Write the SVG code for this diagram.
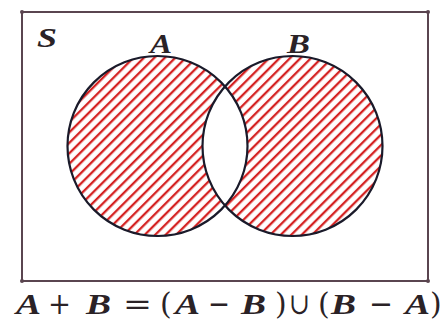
<svg xmlns="http://www.w3.org/2000/svg" width="443" height="325" viewBox="0 0 443 325">
<style>
.v{font-family:"Liberation Serif",serif;font-style:italic;font-weight:bold;fill:#2a2226;}
.op{font-family:"DejaVu Serif","Liberation Serif",serif;font-style:normal;font-weight:normal;fill:#2a2226;}
.frame{fill:none;stroke:#5a4550;stroke-width:2;}
.circ{fill:none;stroke:#1a1a2a;stroke-width:2.2;}
.dot{fill:#5a4550;}
</style>
<defs>
<pattern id="hatch" patternUnits="userSpaceOnUse" width="7.4" height="7.4" patternTransform="rotate(45)">
<rect width="7.4" height="7.4" fill="#fff"/>
<line x1="2" y1="0" x2="2" y2="7.4" stroke="#d42020" stroke-width="2.3"/>
</pattern>
</defs>
<rect width="443" height="325" fill="#fff"/>
<g id="universe">
<rect class="frame" x="22" y="12" width="406" height="269"/>
<circle class="dot" cx="22" cy="12" r="2"/>
<circle class="dot" cx="428" cy="12" r="2"/>
<circle class="dot" cx="22" cy="281" r="2"/>
<circle class="dot" cx="428" cy="281" r="2"/>
<text class="v" x="37" y="47" font-size="28" textLength="20" lengthAdjust="spacingAndGlyphs">S</text>
</g>
<g id="hatched">
<path fill="url(#hatch)" fill-rule="evenodd" d="M67.5,146a90,90 0 1,0 180,0a90,90 0 1,0 -180,0Z M202.5,146a90,90 0 1,0 180,0a90,90 0 1,0 -180,0Z"/>
</g>
<g id="setA">
<circle class="circ" cx="157.5" cy="146" r="90"/>
<text class="v" x="150" y="53" font-size="28" textLength="22" lengthAdjust="spacingAndGlyphs">A</text>
</g>
<g id="setB">
<circle class="circ" cx="292.5" cy="146" r="90"/>
<text class="v" x="287" y="53" font-size="28" textLength="23" lengthAdjust="spacingAndGlyphs">B</text>
</g>
<g id="formula" font-size="30">
<text class="v" x="16" y="314" textLength="25" lengthAdjust="spacingAndGlyphs">A</text>
<text class="op" x="48" y="314" textLength="23" lengthAdjust="spacingAndGlyphs">+</text>
<text class="v" x="86" y="314" textLength="25" lengthAdjust="spacingAndGlyphs">B</text>
<text class="op" x="123" y="314" textLength="29" lengthAdjust="spacingAndGlyphs">=</text>
<text class="op" x="160" y="314">(</text>
<text class="v" x="175" y="314" textLength="25" lengthAdjust="spacingAndGlyphs">A</text>
<text class="op" x="208" y="314" textLength="22" lengthAdjust="spacingAndGlyphs">−</text>
<text class="v" x="241" y="314" textLength="25" lengthAdjust="spacingAndGlyphs">B</text>
<text class="op" x="275" y="314">)</text>
<text class="op" x="289" y="314" textLength="21" lengthAdjust="spacingAndGlyphs">∪</text>
<text class="op" x="318" y="314">(</text>
<text class="v" x="331" y="314" textLength="25" lengthAdjust="spacingAndGlyphs">B</text>
<text class="op" x="369" y="314" textLength="24" lengthAdjust="spacingAndGlyphs">−</text>
<text class="v" x="405" y="314" textLength="25" lengthAdjust="spacingAndGlyphs">A</text>
<text class="op" x="430" y="314">)</text>
</g>
</svg>
